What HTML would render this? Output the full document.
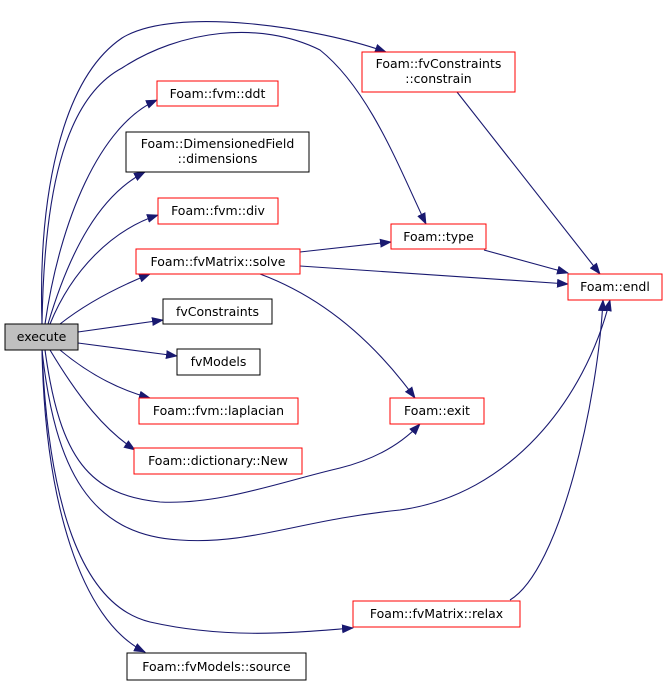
<!DOCTYPE html>
<html><head><meta charset="utf-8"><style>body{margin:0;background:#fff}svg{display:block}</style></head><body>
<svg width="668" height="686" viewBox="0 0 668 686" xmlns="http://www.w3.org/2000/svg" font-family="DejaVu Sans, Liberation Sans, sans-serif" font-size="12.5">
<defs><marker id="a" markerWidth="12" markerHeight="9" refX="11" refY="4.5" orient="auto" markerUnits="userSpaceOnUse"><path d="M0,0 L12,4.5 L0,9 z" fill="#191970"/></marker></defs>
<g fill="none" stroke="#191970" stroke-width="1.1" marker-end="url(#a)">
<path d="M42,324 C38,200 60,80 122,38 C175,5 320,28 386,52"/>
<path d="M42,324 C44,200 62,100 122,68 C180,30 260,20 320,50 C370,90 400,170 426,224"/>
<path d="M45,324 C60,220 100,125 157,100"/>
<path d="M48,324 C70,250 100,195 145,172"/>
<path d="M50,324 C72,270 112,230 158,215"/>
<path d="M60,324 C88,302 120,286 150,274"/>
<path d="M78,332 L163,320"/>
<path d="M78,343 L177,356"/>
<path d="M60,350 C90,375 120,390 150,398"/>
<path d="M50,350 C80,400 105,430 135,450"/>
<path d="M45,350 C60,460 90,495 160,502 C220,505 280,482 340,468 C380,458 405,440 420,424"/>
<path d="M42,350 C55,470 90,535 180,540 C250,545 300,520 400,510 C510,495 585,400 610,300"/>
<path d="M42,350 C48,500 80,605 150,622 C230,640 300,632 353,628"/>
<path d="M42,350 C45,500 80,620 145,652"/>
<path d="M300,252 L391,242"/>
<path d="M300,266 L568,284"/>
<path d="M260,274 C330,300 380,350 415,398"/>
<path d="M484,250 L568,273"/>
<path d="M457,92 L600,274"/>
<path d="M510,600 C560,570 598,400 603,300"/>
</g>
<g stroke-width="1">
<rect x="5" y="324" width="73" height="26" fill="#bfbfbf" stroke="#000"/>
<rect x="362" y="52" width="153" height="40" fill="#fff" stroke="#f00"/>
<rect x="157" y="81" width="121" height="25" fill="#fff" stroke="#f00"/>
<rect x="126" y="132" width="183" height="40" fill="#fff" stroke="#000"/>
<rect x="158" y="198" width="120" height="26" fill="#fff" stroke="#f00"/>
<rect x="136" y="249" width="164" height="25" fill="#fff" stroke="#f00"/>
<rect x="163" y="299" width="109" height="25" fill="#fff" stroke="#000"/>
<rect x="177" y="349" width="83" height="26" fill="#fff" stroke="#000"/>
<rect x="139" y="398" width="159" height="26" fill="#fff" stroke="#f00"/>
<rect x="134" y="448" width="168" height="26" fill="#fff" stroke="#f00"/>
<rect x="127" y="653" width="179" height="27" fill="#fff" stroke="#000"/>
<rect x="391" y="224" width="95" height="25" fill="#fff" stroke="#f00"/>
<rect x="568" y="274" width="94" height="26" fill="#fff" stroke="#f00"/>
<rect x="390" y="398" width="94" height="26" fill="#fff" stroke="#f00"/>
<rect x="353" y="601" width="167" height="26" fill="#fff" stroke="#f00"/>
</g>
<g text-anchor="middle" fill="#000">
<text x="41.5" y="341">execute</text>
<text x="438.5" y="68">Foam::fvConstraints</text>
<text x="438.5" y="83">::constrain</text>
<text x="217.5" y="98">Foam::fvm::ddt</text>
<text x="217.5" y="148">Foam::DimensionedField</text>
<text x="217.5" y="163">::dimensions</text>
<text x="218" y="215">Foam::fvm::div</text>
<text x="218" y="266">Foam::fvMatrix::solve</text>
<text x="217.5" y="316">fvConstraints</text>
<text x="218.5" y="366">fvModels</text>
<text x="218.5" y="415">Foam::fvm::laplacian</text>
<text x="218" y="465">Foam::dictionary::New</text>
<text x="216.5" y="671">Foam::fvModels::source</text>
<text x="438.5" y="241">Foam::type</text>
<text x="615" y="291">Foam::endl</text>
<text x="437" y="415">Foam::exit</text>
<text x="436.5" y="618">Foam::fvMatrix::relax</text>
</g>
</svg>
</body></html>
